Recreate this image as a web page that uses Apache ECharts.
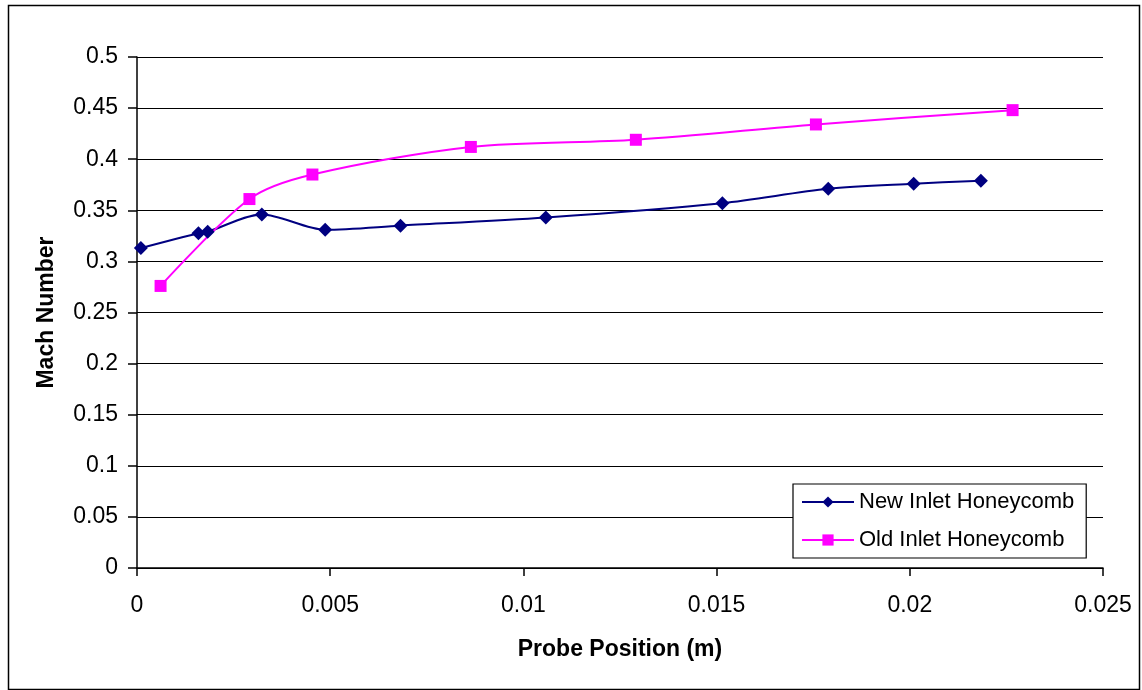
<!DOCTYPE html>
<html>
<head>
<meta charset="utf-8">
<script src="https://cdn.jsdelivr.net/npm/echarts@6/dist/echarts.min.js"></script>
<style>html,body{margin:0;padding:0;background:#fff}#c{width:1142px;height:690px}</style>
</head>
<body>
<div id="c"></div>
<script>
const newX = [0.0001, 0.00159, 0.00183, 0.00323, 0.00487, 0.00682, 0.01058, 0.01515, 0.01789, 0.0201, 0.02184];
const newY = [0.313, 0.3275, 0.329, 0.346, 0.331, 0.335, 0.343, 0.357, 0.371, 0.376, 0.379];
const oldX = [0.00061, 0.00291, 0.00454, 0.00864, 0.01291, 0.01757, 0.02266];
const oldY = [0.276, 0.361, 0.385, 0.412, 0.419, 0.434, 0.448];
const seriesNames = ['New Inlet Honeycomb', 'Old Inlet Honeycomb'];
const xTitle = 'Probe Position (m)';
const yTitle = 'Mach Number';

const zip = (xs, ys) => xs.map((x, i) => [x, ys[i]]);
const font = 'Liberation Sans, Arial, sans-serif';
const chart = echarts.init(document.getElementById('c'), null, {renderer: 'canvas'});
chart.setOption({
  animation: false,
  backgroundColor: '#fff',
  graphic: [{
    type: 'rect', left: 6, top: 3, shape: {width: 1131, height: 684},
    style: {fill: 'none', stroke: '#000', lineWidth: 1.5}, silent: true
  }],
  grid: {left: 137, right: 39, top: 57, bottom: 122},
  xAxis: {
    type: 'value', min: 0, max: 0.025, interval: 0.005,
    name: xTitle, nameLocation: 'middle', nameGap: 70,
    nameTextStyle: {fontFamily: font, fontSize: 23, fontWeight: 'bold', color: '#000'},
    axisLine: {onZero: false, lineStyle: {color: '#000', width: 1.5}},
    axisTick: {show: true, length: 8, lineStyle: {color: '#000', width: 1.5}},
    axisLabel: {fontFamily: font, fontSize: 23, color: '#000', margin: 26,
      formatter: v => String(+v.toFixed(3))},
    splitLine: {show: false}
  },
  yAxis: {
    type: 'value', min: 0, max: 0.5, interval: 0.05,
    name: yTitle, nameLocation: 'middle', nameGap: 79, nameRotate: 90,
    nameTextStyle: {fontFamily: font, fontSize: 23, fontWeight: 'bold', color: '#000'},
    axisLine: {show: true, lineStyle: {color: '#000', width: 1.5}},
    axisTick: {show: true, length: 9, lineStyle: {color: '#000', width: 1.5}},
    axisLabel: {fontFamily: font, fontSize: 23, color: '#000', margin: 19,
      formatter: v => String(+v.toFixed(2))},
    splitLine: {show: true, lineStyle: {color: '#000', width: 1}}
  },
  legend: {
    left: 793, top: 484, orient: 'vertical',
    itemWidth: 52, itemHeight: 14, itemGap: 16,
    padding: [7, 12, 7, 8],
    backgroundColor: '#fff', borderColor: '#000', borderWidth: 1.2,
    textStyle: {fontFamily: font, fontSize: 22, lineHeight: 22, color: '#000'},
    data: seriesNames
  },
  series: [{
    name: seriesNames[0], type: 'line', smooth: 0.3,
    data: zip(newX, newY),
    symbol: 'diamond', symbolSize: 14,
    itemStyle: {color: '#000080'},
    lineStyle: {color: '#000080', width: 2}
  }, {
    name: seriesNames[1], type: 'line', smooth: 0.3,
    data: zip(oldX, oldY),
    symbol: 'rect', symbolSize: 12,
    itemStyle: {color: '#ff00ff'},
    lineStyle: {color: '#ff00ff', width: 2}
  }]
});
</script>
</body>
</html>
